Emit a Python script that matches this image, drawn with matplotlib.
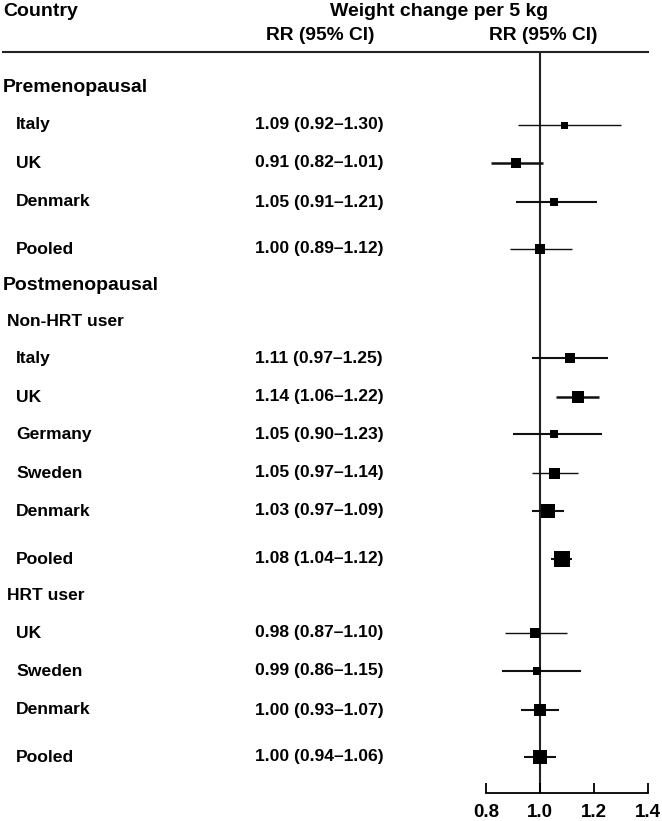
import matplotlib
matplotlib.use("Agg")
import matplotlib.pyplot as plt

plt.rcParams['font.family'] = ['Liberation Sans', 'DejaVu Sans']
plt.rcParams['font.weight'] = 'bold'

# study rows (pre-menopausal, post non-HRT, post HRT)
countries = ["Italy", "UK", "Denmark", "Pooled",
             "Italy", "UK", "Germany", "Sweden", "Denmark", "Pooled",
             "UK", "Sweden", "Denmark", "Pooled"]
rr = [1.09, 0.91, 1.05, 1.00,
      1.11, 1.14, 1.05, 1.05, 1.03, 1.08,
      0.98, 0.99, 1.00, 1.00]
ci_low = [0.92, 0.82, 0.91, 0.89,
          0.97, 1.06, 0.90, 0.97, 0.97, 1.04,
          0.87, 0.86, 0.93, 0.94]
ci_high = [1.30, 1.01, 1.21, 1.12,
           1.25, 1.22, 1.23, 1.14, 1.09, 1.12,
           1.10, 1.15, 1.07, 1.06]
# box size (weight) in pixels
weights = [7, 10, 8.5, 10,
           10, 12, 8.5, 11, 13.5, 16,
           9.5, 8.5, 12, 13.5]
ticks = [0.8, 1.0, 1.2, 1.4]

groups = ["Premenopausal", "Postmenopausal"]
subgroups = ["Non-HRT user", "HRT user"]

# layout (pixel rows, from the top)
W, H = 662, 821
row_y = [125, 163, 202, 249,
         358, 397, 434, 473, 511, 559,
         633, 671, 710, 757]
line_w = [1.0, 1.8, 1.5, 1.0,
          1.5, 1.8, 1.5, 1.0, 1.5, 1.5,
          1.0, 1.5, 1.5, 1.5]
group_y = [87, 285]
subgroup_y = [321, 595]
axis_top, axis_bottom = 52, 793
x_left, x_right = 486, 648

fig = plt.figure(figsize=(W / 100, H / 100), dpi=100)

bg = fig.add_axes([0, 0, 1, 1])
bg.set_xlim(0, W)
bg.set_ylim(H, 0)
bg.axis('off')

# header
bg.text(3, 12, "Country", fontsize=14, va='center', ha='left')
bg.text(439, 12, "Weight change per 5 kg", fontsize=14, va='center', ha='center')
bg.text(320, 36, "RR (95% CI)", fontsize=13.8, va='center', ha='center')
bg.text(543, 36, "RR (95% CI)", fontsize=13.8, va='center', ha='center')
bg.plot([3, x_right], [axis_top, axis_top], color='#222222', lw=1.5)

for g, y in zip(groups, group_y):
    bg.text(3, y, g, fontsize=14, va='center', ha='left')
for s, y in zip(subgroups, subgroup_y):
    bg.text(7, y, s, fontsize=12.5, va='center', ha='left')

for c, r, lo, hi, y in zip(countries, rr, ci_low, ci_high, row_y):
    bg.text(16, y, c, fontsize=12.6, va='center', ha='left')
    txt = f"{r:.2f} ({lo:.2f}\u2013{hi:.2f})"
    bg.text(255, y, txt, fontsize=12.6, va='center', ha='left')

# forest panel
ax = fig.add_axes([x_left / W, 1 - axis_bottom / H,
                   (x_right - x_left) / W, (axis_bottom - axis_top) / H])
ax.set_xlim(ticks[0], ticks[-1])
ax.set_ylim(axis_bottom, axis_top)
ax.patch.set_alpha(0)
for side in ['top', 'right', 'left']:
    ax.spines[side].set_visible(False)
ax.spines['bottom'].set_linewidth(1.3)
ax.set_yticks([])
ax.set_xticks(ticks)
ax.set_xticklabels([f"{t:.1f}" for t in ticks], fontsize=13.5, fontweight='bold')
ax.tick_params(axis='x', direction='in', length=7, width=1.3, pad=8)

ax.axvline(1.0, color='#222222', lw=1.5, zorder=1)

for r, lo, hi, y, w, lw in zip(rr, ci_low, ci_high, row_y, weights, line_w):
    ax.hlines(y, lo, hi, color='#111111', lw=lw, zorder=2)
    ax.plot([r], [y], marker='s', color='black', ms=w * 0.72, mew=0,
            linestyle='none', zorder=3)

fig.savefig("out.png", dpi=100)
